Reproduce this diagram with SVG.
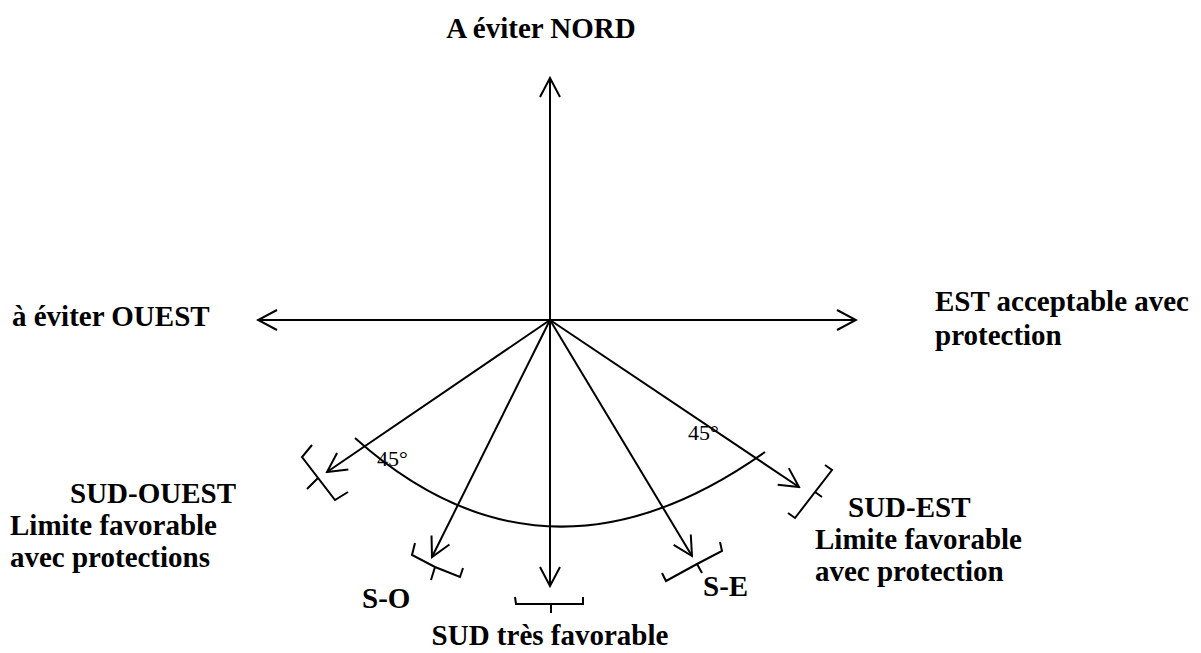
<svg xmlns="http://www.w3.org/2000/svg" width="1201" height="653" viewBox="0 0 1201 653">
<style>
.ln{stroke:#000;stroke-width:2;fill:none}
.br{stroke:#000;stroke-width:2;fill:none;stroke-linejoin:miter}
.t{font-family:'Liberation Serif','Times New Roman',Tinos,'DejaVu Serif',serif;font-weight:bold;font-size:29px;fill:#000}
.d{font-family:'Liberation Serif','Times New Roman',Tinos,'DejaVu Serif',serif;font-size:22px;fill:#000}
</style>
<defs>
<marker id="ah" viewBox="-22 -12 24 24" refX="0" refY="0" markerWidth="24" markerHeight="24" markerUnits="userSpaceOnUse" orient="auto-start-reverse">
<path d="M-19,-10 L0,0 L-19,10" fill="none" stroke="#000" stroke-width="2"/>
</marker>
</defs>
<rect width="1201" height="653" fill="#fff"/>
<g id="connectors">
<line class="ln" x1="550" y1="320" x2="550" y2="78" marker-end="url(#ah)"/>
<line class="ln" x1="258" y1="320" x2="856" y2="320" marker-start="url(#ah)" marker-end="url(#ah)"/>
<line class="ln" x1="550" y1="320" x2="550" y2="586" marker-end="url(#ah)"/>
<line class="ln" x1="550" y1="320" x2="327" y2="472" marker-end="url(#ah)"/>
<line class="ln" x1="550" y1="320" x2="432" y2="557" marker-end="url(#ah)"/>
<line class="ln" x1="550" y1="320" x2="692" y2="556" marker-end="url(#ah)"/>
<line class="ln" x1="550" y1="320" x2="799" y2="487" marker-end="url(#ah)"/>
<path class="ln" d="M355,438 Q545,608 765,452"/>
</g>
<g id="nord"><text class="t" x="541" y="38" text-anchor="middle">A éviter NORD</text></g>
<g id="ouest"><text class="t" x="12" y="326">à éviter OUEST</text></g>
<g id="est"><text class="t" x="935" y="311">EST acceptable avec</text><text class="t" x="935" y="345">protection</text></g>
<g id="sud-ouest">
<path class="br" d="M312,445 L302,457 L335,500 L348,492 M318,478 L307,489"/>
<text class="t" x="70" y="503">SUD-OUEST</text>
<text class="t" x="10" y="535">Limite favorable</text>
<text class="t" x="10" y="567">avec protections</text>
</g>
<g id="s-o">
<path class="br" d="M415,543 L412,555 L435,567 L460,577 L463,568 M435,567 L431,580"/>
<text class="t" x="362" y="608">S-O</text>
</g>
<g id="sud">
<path class="br" d="M515,597 L516,604 L583,604 L583,597 M551,604 L551,613"/>
<text class="t" x="550" y="645" text-anchor="middle">SUD très favorable</text>
</g>
<g id="s-e">
<path class="br" d="M662,573 L666,581 L697,564 L722,551 L720,542 M697,564 L702,573"/>
<text class="t" x="703" y="596">S-E</text>
</g>
<g id="sud-est">
<path class="br" d="M825,465 L832,470 L795,518 L788,513 M815,492 L822,497"/>
<text class="t" x="848" y="517">SUD-EST</text>
<text class="t" x="815" y="549">Limite favorable</text>
<text class="t" x="815" y="581">avec protection</text>
</g>
<g id="angles">
<text class="d" x="377" y="466">45°</text>
<text class="d" x="688" y="440">45°</text>
</g>
</svg>
